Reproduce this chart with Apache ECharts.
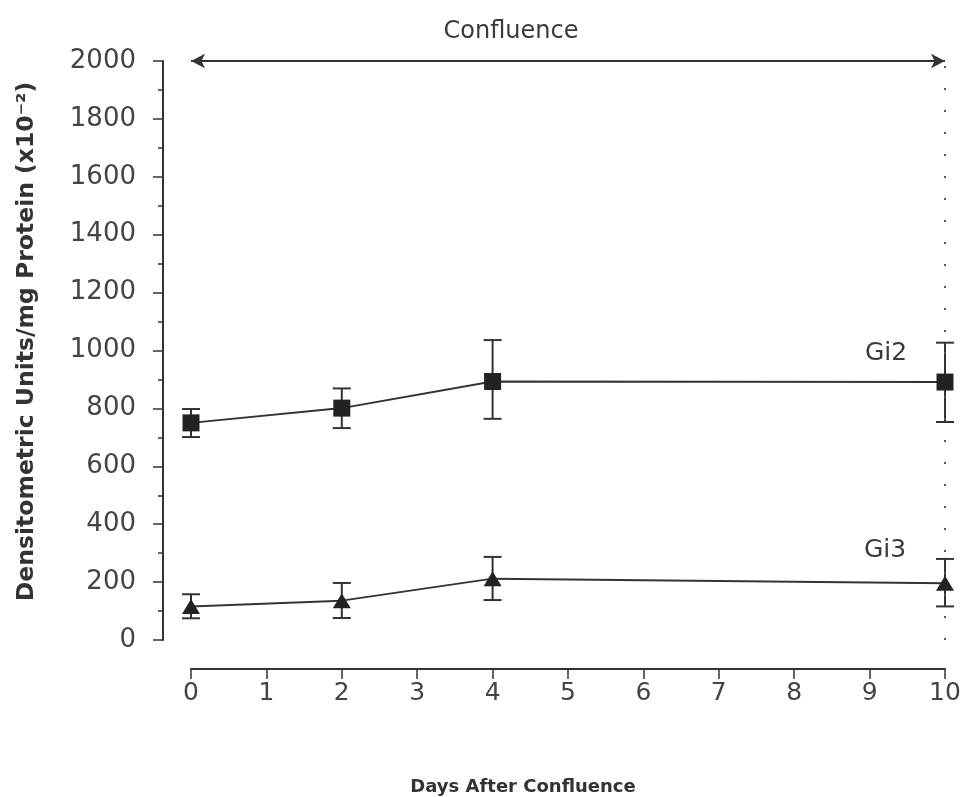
<!DOCTYPE html>
<html>
<head>
<meta charset="utf-8">
<script src="https://cdn.jsdelivr.net/npm/echarts@6/dist/echarts.min.js"></script>
<style>
html,body{margin:0;padding:0;background:#fff;}
#chart{width:962px;height:797px;}
</style>
</head>
<body>
<div id="chart"></div>
<script>
// ---- data ----
const days = [0, 2, 4, 10];
const xTicks = [0, 1, 2, 3, 4, 5, 6, 7, 8, 9, 10];
const yTicks = [0, 200, 400, 600, 800, 1000, 1200, 1400, 1600, 1800, 2000];

const gi2Mean = [750, 801, 893, 891];
const gi2Low  = [701, 732, 764, 753];
const gi2High = [798, 869, 1036, 1027];

const gi3Mean = [116, 136, 212, 196];
const gi3Low  = [75, 76, 138, 116];
const gi3High = [158, 197, 287, 280];

const seriesNames = ['Gi2', 'Gi3'];
const titleText = 'Confluence';
const xName = 'Days After Confluence';
const yName = 'Densitometric Units/mg Protein (x10\u207B\u00B2)';

const INK = '#333';
const FONT = 'DejaVu Sans';

function pairs(xs, ys) { return xs.map((x, i) => [x, ys[i]]); }
function errs(xs, lo, hi) { return xs.map((x, i) => [x, lo[i], hi[i]]); }

function errRender(params, api) {
  const x = api.value(0);
  const p1 = api.coord([x, api.value(1)]);
  const p2 = api.coord([x, api.value(2)]);
  const hw = 9;
  const style = { stroke: INK, lineWidth: 2 };
  return {
    type: 'group',
    children: [
      { type: 'line', shape: { x1: p1[0], y1: p1[1], x2: p2[0], y2: p2[1] }, style: style },
      { type: 'line', shape: { x1: p1[0] - hw, y1: p1[1], x2: p1[0] + hw, y2: p1[1] }, style: style },
      { type: 'line', shape: { x1: p2[0] - hw, y1: p2[1], x2: p2[0] + hw, y2: p2[1] }, style: style }
    ]
  };
}

const chart = echarts.init(document.getElementById('chart'), null, { renderer: 'canvas' });
const lastIdx = days.length - 1;

chart.setOption({
  animation: false,
  backgroundColor: '#fff',
  title: {
    text: titleText,
    left: 506,
    textAlign: 'center',
    top: 15,
    textStyle: { fontFamily: FONT, fontSize: 24, fontWeight: 'normal', color: '#3a3a3a' }
  },
  grid: { left: 191, right: 17, top: 61, bottom: 157, containLabel: false, outerBoundsMode: 'none' },
  xAxis: {
    type: 'value',
    min: xTicks[0],
    max: xTicks[xTicks.length - 1],
    interval: 1,
    offset: 29,
    name: xName,
    nameLocation: 'middle',
    nameGap: 109,
    nameTextStyle: { fontFamily: FONT, fontSize: 18, fontWeight: 'bold', color: INK, padding: [0, 90, 0, 0] },
    axisLine: { show: true, onZero: false, lineStyle: { color: INK, width: 2 } },
    axisTick: { show: true, length: 10, lineStyle: { color: INK, width: 1.5 } },
    axisLabel: { margin: 12, fontFamily: FONT, fontSize: 25, color: '#444', formatter: v => String(v) },
    splitLine: { show: false }
  },
  yAxis: {
    type: 'value',
    min: yTicks[0],
    max: yTicks[yTicks.length - 1],
    interval: 200,
    offset: 28,
    name: yName,
    nameLocation: 'middle',
    nameGap: 124,
    nameTextStyle: { fontFamily: FONT, fontSize: 23.5, fontWeight: 'bold', color: INK, padding: [0, 0, 0, 18] },
    axisLine: { show: true, onZero: false, lineStyle: { color: INK, width: 2 } },
    axisTick: { show: true, length: 10, lineStyle: { color: INK, width: 1.5 } },
    minorTick: { show: true, splitNumber: 2, length: 5, lineStyle: { color: INK, width: 1.5 } },
    axisLabel: { margin: 27, fontFamily: FONT, fontSize: 26, color: '#444', formatter: v => String(v) },
    splitLine: { show: false },
    minorSplitLine: { show: false }
  },
  series: [
    {
      name: seriesNames[0],
      type: 'line',
      data: pairs(days, gi2Mean),
      symbol: 'rect',
      symbolSize: 17,
      lineStyle: { color: INK, width: 2 },
      itemStyle: { color: '#222' },
      z: 5,
      label: {
        show: true,
        position: 'inside',
        offset: [-59, -29],
        formatter: p => (p.dataIndex === lastIdx ? seriesNames[0] : ''),
        fontFamily: FONT, fontSize: 25, color: '#3a3a3a'
      },
      markLine: {
        silent: true,
        symbol: ['arrow', 'arrow'],
        symbolSize: [11, 14],
        label: { show: false },
        lineStyle: { color: INK, width: 2, type: 'solid' },
        data: [[{ coord: [xTicks[0], yTicks[yTicks.length - 1]] }, { coord: [xTicks[xTicks.length - 1], yTicks[yTicks.length - 1]] }]]
      }
    },
    {
      name: seriesNames[1],
      type: 'line',
      data: pairs(days, gi3Mean),
      symbol: 'triangle',
      symbolSize: [18, 15],
      lineStyle: { color: INK, width: 2 },
      itemStyle: { color: '#222' },
      z: 5,
      label: {
        show: true,
        position: 'inside',
        offset: [-60, -33],
        formatter: p => (p.dataIndex === lastIdx ? seriesNames[1] : ''),
        fontFamily: FONT, fontSize: 25, color: '#3a3a3a'
      },
      markLine: {
        silent: true,
        symbol: ['none', 'none'],
        label: { show: false },
        lineStyle: { color: '#555', width: 2, type: [2, 20] },
        data: [{ xAxis: days[lastIdx] }]
      }
    },
    {
      type: 'custom',
      renderItem: errRender,
      data: errs(days, gi2Low, gi2High),
      z: 4,
      silent: true
    },
    {
      type: 'custom',
      renderItem: errRender,
      data: errs(days, gi3Low, gi3High),
      z: 4,
      silent: true
    }
  ]
});
</script>
</body>
</html>
